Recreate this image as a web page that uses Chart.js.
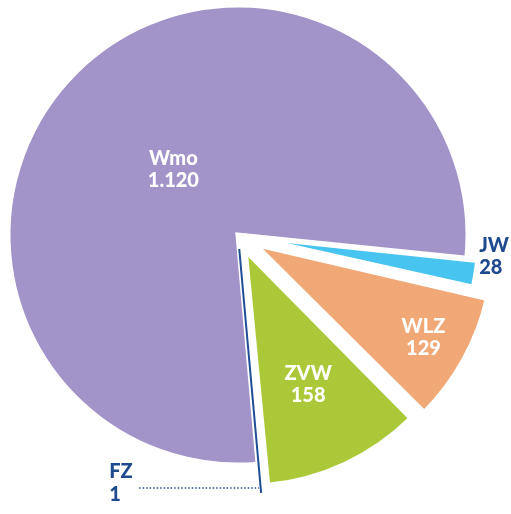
<!DOCTYPE html>
<html lang="nl">
<head>
<meta charset="UTF-8">
<title>Wmo / JW / WLZ / ZVW / FZ</title>
<script src="https://cdn.jsdelivr.net/npm/chart.js"></script>
<style>
  body { margin: 0; background: #fff; }
</style>
</head>
<body>
<canvas id="pieChart" width="511" height="514"></canvas>
<script>
// values as printed on the slices
const labels = ['Wmo', 'JW', 'WLZ', 'ZVW', 'FZ'];
const values = [1120, 28, 129, 158, 1];
const valueLabels = ['1.120', '28', '129', '158', '1'];

const colors = ['#a294c8', '#47c4f0', '#f0a876', '#aac838', '#1e4e96'];
const textBlue = '#1f4a8f';
const shift = [0, 11, 28, 23, 28];          // how far each slice is pulled out (px)
const labelRadius = [0.4, 0, 0.8, 0.62, 0];  // inside labels, fraction of radius

// chart.js v4 moves an arc by offset/4 * (2 - sin(angle)), so work back to the offset
const total = values.reduce((a, b) => a + b, 0);
const offsets = values.map((v, i) => {
    const a = Math.min(Math.PI, v / total * 2 * Math.PI);
    return 4 * shift[i] / (2 - Math.sin(a));
});

const sliceLabels = {
    id: 'sliceLabels',
    afterDatasetsDraw(chart) {
        const ctx = chart.ctx;
        const arcs = chart.getDatasetMeta(0).data;
        ctx.save();
        ctx.font = '900 20px Lato';
        ctx.textBaseline = 'middle';
        arcs.forEach((arc, i) => {
            const p = arc.getProps(['x', 'y', 'startAngle', 'endAngle', 'outerRadius'], true);
            const mid = (p.startAngle + p.endAngle) / 2;
            const cos = Math.cos(mid), sin = Math.sin(mid);

            if (labelRadius[i] > 0) {
                // inside label
                const r = shift[i] + p.outerRadius * labelRadius[i];
                const lx = p.x + r * cos, ly = p.y + r * sin;
                ctx.fillStyle = '#fff';
                ctx.textAlign = 'center';
                ctx.fillText(labels[i], lx, ly - 11);
                ctx.fillText(valueLabels[i], lx, ly + 11);
            } else if (labels[i] === 'JW') {
                // label beside the slice, kept inside the canvas
                const r = p.outerRadius + shift[i];
                const w = Math.max(ctx.measureText(labels[i]).width, ctx.measureText(valueLabels[i]).width);
                const lx = Math.min(p.x + r * cos + 4, chart.width - w - 2);
                const ly = p.y + r * Math.sin(p.startAngle) - 14;
                ctx.fillStyle = textBlue;
                ctx.textAlign = 'left';
                ctx.fillText(labels[i], lx, ly);
                ctx.fillText(valueLabels[i], lx, ly + 22);
            } else {
                // small slice: label to the left with a dotted leader
                const r = p.outerRadius + shift[i];
                const ex = p.x + r * cos, ey = p.y + r * sin - 4;
                const tx = p.x - p.outerRadius * 0.56;
                ctx.strokeStyle = textBlue;
                ctx.lineWidth = 1.5;
                ctx.setLineDash([1.5, 2]);
                ctx.beginPath();
                ctx.moveTo(tx + 30, ey);
                ctx.lineTo(ex - 2, ey);
                ctx.stroke();
                ctx.setLineDash([]);
                ctx.fillStyle = textBlue;
                ctx.textAlign = 'left';
                ctx.fillText(labels[i], tx, ey - 16);
                ctx.fillText(valueLabels[i], tx, ey + 7);
            }
        });
        ctx.restore();
    }
};

new Chart(document.getElementById('pieChart'), {
    type: 'pie',
    data: {
        labels: labels,
        datasets: [{
            data: values,
            backgroundColor: colors,
            borderColor: ['#fff', '#fff', '#fff', '#fff', colors[4]],
            borderWidth: [5, 5, 5, 5, 2],
            borderJoinStyle: 'miter',
            offset: offsets,
            hoverOffset: 0
        }]
    },
    options: {
        responsive: false,
        animation: false,
        events: [],
        rotation: 175,
        radius: 230,
        layout: { padding: { left: 0, right: 35, top: 0, bottom: 44 } },
        plugins: {
            legend: { display: false },
            tooltip: { enabled: false }
        }
    },
    plugins: [sliceLabels]
});
</script>
</body>
</html>
